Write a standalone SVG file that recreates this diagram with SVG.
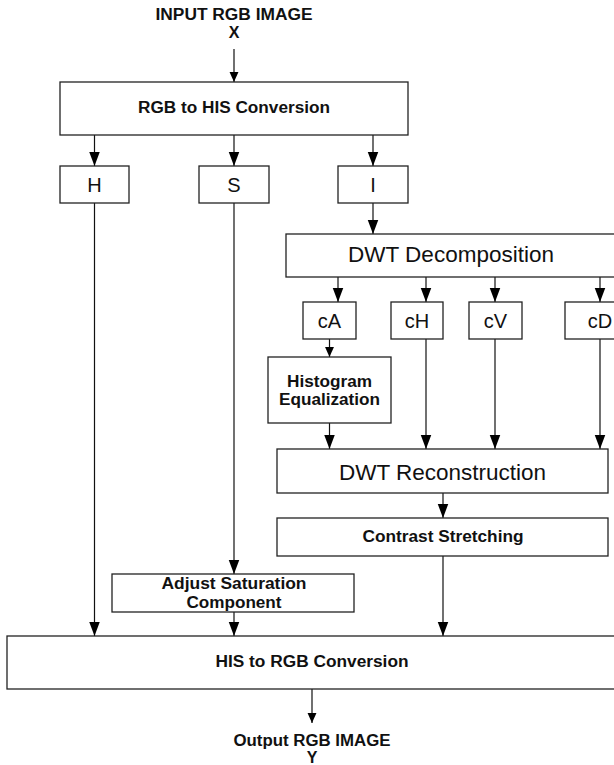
<svg xmlns="http://www.w3.org/2000/svg" width="614" height="765" viewBox="0 0 614 765">
<style>
.box{fill:#fff;stroke:#222;stroke-width:1.3}
.ln{fill:none;stroke:#111;stroke-width:1.2}
.b{font-family:"Liberation Sans",Arial,sans-serif;font-weight:bold;font-size:16px;fill:#111;text-anchor:middle}
.r{font-family:"Liberation Sans",Arial,sans-serif;font-size:20px;fill:#111;text-anchor:middle}
.rl{font-family:"Liberation Sans",Arial,sans-serif;font-size:22.5px;fill:#111;text-anchor:middle}
</style>
<defs>
<marker id="big" markerUnits="userSpaceOnUse" markerWidth="14" markerHeight="18" refX="16" refY="6" orient="auto" viewBox="0 0 16 12">
<path d="M0,0 L16,6 L0,12 Z" fill="#000"/>
</marker>
<marker id="sm" markerUnits="userSpaceOnUse" markerWidth="10" markerHeight="10" refX="9" refY="4" orient="auto" viewBox="0 0 9 8">
<path d="M0,0 L9,4 L0,8 Z" fill="#000"/>
</marker>
</defs>
<rect width="614" height="765" fill="#fff"/>
<g id="connectors">
<line class="ln" x1="234" y1="49" x2="234" y2="82" marker-end="url(#sm)"/>
<line class="ln" x1="94.5" y1="135" x2="94.5" y2="166" marker-end="url(#big)"/>
<line class="ln" x1="234" y1="135" x2="234" y2="166" marker-end="url(#big)"/>
<line class="ln" x1="373" y1="135" x2="373" y2="166" marker-end="url(#big)"/>
<line class="ln" x1="94.5" y1="203" x2="94.5" y2="636" marker-end="url(#big)"/>
<line class="ln" x1="234" y1="203" x2="234" y2="574" marker-end="url(#big)"/>
<line class="ln" x1="373" y1="203" x2="373" y2="234" marker-end="url(#big)"/>
<line class="ln" x1="338" y1="277" x2="338" y2="302" marker-end="url(#big)"/>
<line class="ln" x1="426" y1="277" x2="426" y2="302" marker-end="url(#big)"/>
<line class="ln" x1="495" y1="277" x2="495" y2="302" marker-end="url(#big)"/>
<line class="ln" x1="600" y1="277" x2="600" y2="302" marker-end="url(#big)"/>
<line class="ln" x1="329.5" y1="339" x2="329.5" y2="357" marker-end="url(#sm)"/>
<line class="ln" x1="329.5" y1="423" x2="329.5" y2="449" marker-end="url(#big)"/>
<line class="ln" x1="426" y1="339" x2="426" y2="449" marker-end="url(#big)"/>
<line class="ln" x1="495" y1="339" x2="495" y2="449" marker-end="url(#big)"/>
<line class="ln" x1="600" y1="339" x2="600" y2="449" marker-end="url(#big)"/>
<line class="ln" x1="443" y1="493" x2="443" y2="518" marker-end="url(#big)"/>
<line class="ln" x1="443" y1="556" x2="443" y2="636" marker-end="url(#big)"/>
<line class="ln" x1="234" y1="612" x2="234" y2="636" marker-end="url(#big)"/>
<line class="ln" x1="312" y1="689" x2="312" y2="723" marker-end="url(#sm)"/>
</g>
<g id="input">
<text class="b" x="234" y="20" textLength="157" lengthAdjust="spacingAndGlyphs">INPUT RGB IMAGE</text>
<text class="b" x="234" y="38">X</text>
</g>
<g id="rgb2his">
<rect class="box" x="60" y="82" width="348" height="53"/>
<text class="b" x="234" y="113" textLength="192" lengthAdjust="spacingAndGlyphs">RGB to HIS Conversion</text>
</g>
<g id="h"><rect class="box" x="60" y="166" width="69" height="37"/><text class="r" x="94.5" y="192">H</text></g>
<g id="s"><rect class="box" x="199" y="166" width="70" height="37"/><text class="r" x="234" y="192">S</text></g>
<g id="i"><rect class="box" x="338" y="166" width="70" height="37"/><text class="r" x="373" y="192">I</text></g>
<g id="dwtdec">
<rect class="box" x="286" y="234" width="334" height="43"/>
<text class="rl" x="451" y="262">DWT Decomposition</text>
</g>
<g id="ca"><rect class="box" x="303" y="302" width="53" height="37"/><text class="r" x="329.5" y="328">cA</text></g>
<g id="ch"><rect class="box" x="391" y="302" width="52" height="37"/><text class="r" x="417" y="328">cH</text></g>
<g id="cv"><rect class="box" x="469" y="302" width="53" height="37"/><text class="r" x="495.5" y="328">cV</text></g>
<g id="cd"><rect class="box" x="565" y="302" width="70" height="37"/><text class="r" x="600" y="328">cD</text></g>
<g id="hist">
<rect class="box" x="268" y="357" width="123" height="66"/>
<text class="b" x="329.5" y="387" textLength="85" lengthAdjust="spacingAndGlyphs">Histogram</text>
<text class="b" x="329.5" y="405" textLength="101" lengthAdjust="spacingAndGlyphs">Equalization</text>
</g>
<g id="dwtrec">
<rect class="box" x="277" y="449" width="331" height="44"/>
<text class="rl" x="442.5" y="480">DWT Reconstruction</text>
</g>
<g id="contrast">
<rect class="box" x="277" y="518" width="331" height="38"/>
<text class="b" x="443" y="542" textLength="161" lengthAdjust="spacingAndGlyphs">Contrast Stretching</text>
</g>
<g id="adjust">
<rect class="box" x="112" y="574" width="242" height="38"/>
<text class="b" x="234" y="589" textLength="145" lengthAdjust="spacingAndGlyphs">Adjust Saturation</text>
<text class="b" x="234" y="608" textLength="95" lengthAdjust="spacingAndGlyphs">Component</text>
</g>
<g id="his2rgb">
<rect class="box" x="7" y="636" width="613" height="53"/>
<text class="b" x="312" y="667" textLength="193" lengthAdjust="spacingAndGlyphs">HIS to RGB Conversion</text>
</g>
<g id="output">
<text class="b" x="312" y="746" textLength="157" lengthAdjust="spacingAndGlyphs">Output RGB IMAGE</text>
<text class="b" x="312" y="763">Y</text>
</g>
</svg>
